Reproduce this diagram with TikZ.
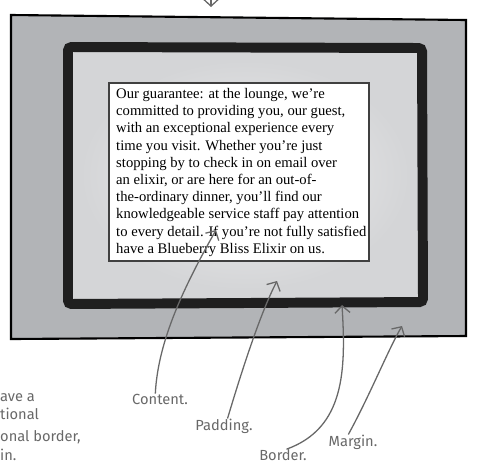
\documentclass[tikz,border=0pt]{standalone}
\usepackage{fontspec}
\setmainfont{Liberation Serif}
\newfontfamily\handfont{Fira Sans}
\usetikzlibrary{arrows.meta}

\definecolor{marginGray}{RGB}{178,180,183}
\definecolor{paddingGray}{RGB}{212,213,215}
\definecolor{paddingLight}{RGB}{238,238,239}
\definecolor{noteGray}{RGB}{104,104,104}

\tikzset{
    note/.style={font=\handfont\fontsize{12.5}{14}\selectfont, text=noteGray, inner sep=0pt},
    pointer/.style={->, draw=noteGray, line width=1.1pt},
}

\begin{document}
\begin{tikzpicture}[x=0.03cm, y=-0.03cm, >={Straight Barb[length=6pt,width=13pt]}]
    \useasboundingbox (0,0) rectangle (489,468);

    % =================================================================
    % 1. CORNERS OF THE THREE BOXES
    % =================================================================
    \coordinate (MarginTL) at (11,15);
    \coordinate (MarginTR) at (466,20);
    \coordinate (MarginBR) at (466,336);
    \coordinate (MarginBL) at (11,339);

    \coordinate (BorderTL) at (68,47);
    \coordinate (BorderTR) at (422,48);
    \coordinate (BorderBR) at (423,302);
    \coordinate (BorderBL) at (68,304);

    \coordinate (ContentTL) at (109,83);
    \coordinate (ContentBR) at (369,261);

    % =================================================================
    % 2. MARGIN, BORDER AND PADDING
    % =================================================================
    \fill[marginGray] (MarginTL) -- (MarginTR) -- (MarginBR) -- (MarginBL) -- cycle;
    \draw[line width=1.8pt] (MarginTL) -- (MarginTR) -- (MarginBR) -- (MarginBL) -- cycle;

    \fill[paddingGray] (BorderTL) -- (BorderTR) -- (BorderBR) -- (BorderBL) -- cycle;
    \shade[inner color=paddingLight, outer color=paddingGray] (80,60) rectangle (410,290);
    \draw[line width=8.5pt, rounded corners=3pt, black!88]
        (BorderTL) -- (BorderTR) -- (BorderBR) -- (BorderBL) -- cycle;

    % =================================================================
    % 3. CONTENT BOX WITH ITS TEXT
    % =================================================================
    \draw[fill=white, draw=black!75, line width=1.2pt] (ContentTL) rectangle (ContentBR);
    \node[anchor=north west, inner sep=0pt, align=left,
          font=\fontsize{12.5}{14.7}\selectfont] (guarantee) at (116,88)
        {Our guarantee: at the lounge, we’re\\
         committed to providing you, our guest,\\
         with an exceptional experience every\\
         time you visit. Whether you’re just\\
         stopping by to check in on email over\\
         an elixir, or are here for an out-of-\\
         the-ordinary dinner, you’ll find our\\
         knowledgeable service staff pay attention\\
         to every detail. If you’re not fully satisfied\\
         have a Blueberry Bliss Elixir on us.};

    % =================================================================
    % 4. HANDWRITTEN LABELS AND POINTERS
    % =================================================================
    \node[note] (content) at (160,399) {Content.};
    \node[note] (padding) at (224,426) {Padding.};
    \node[note] (border) at (283,455) {Border.};
    \node[note] (margin) at (353,442) {Margin.};

    \coordinate (contentTip) at (216,230);
    \coordinate (paddingTip) at (277,281);
    \coordinate (borderTip) at (342,305);
    \coordinate (marginTip) at (402,326);

    \draw[pointer] ([xshift=-4pt]content.north) .. controls (158,340) and (185,285) .. (contentTip);
    \draw[pointer] ([xshift=3pt]padding.north) .. controls (245,360) and (262,310) .. (paddingTip);
    \draw[pointer] ([xshift=3pt]border.north) .. controls (345,428) and (346,370) .. (borderTip);
    \draw[pointer] ([xshift=-4pt]margin.north) .. controls (370,395) and (388,350) .. (marginTip);

    % pointer coming in from above the picture
    \coordinate (topStart) at (211,-3);
    \coordinate (topTip) at (211,7);
    \draw[pointer] (topStart) -- (topTip);

    % note cut off at the left edge
    \node[note, anchor=base west] (noteA) at (0,401) {ave a};
    \node[note, anchor=base west] (noteB) at (0,419) {tional};
    \node[note, anchor=base west] (noteC) at (0,441) {onal border,};
    \node[note, anchor=base west] (noteD) at (0,460) {in.};

\end{tikzpicture}
\end{document}
